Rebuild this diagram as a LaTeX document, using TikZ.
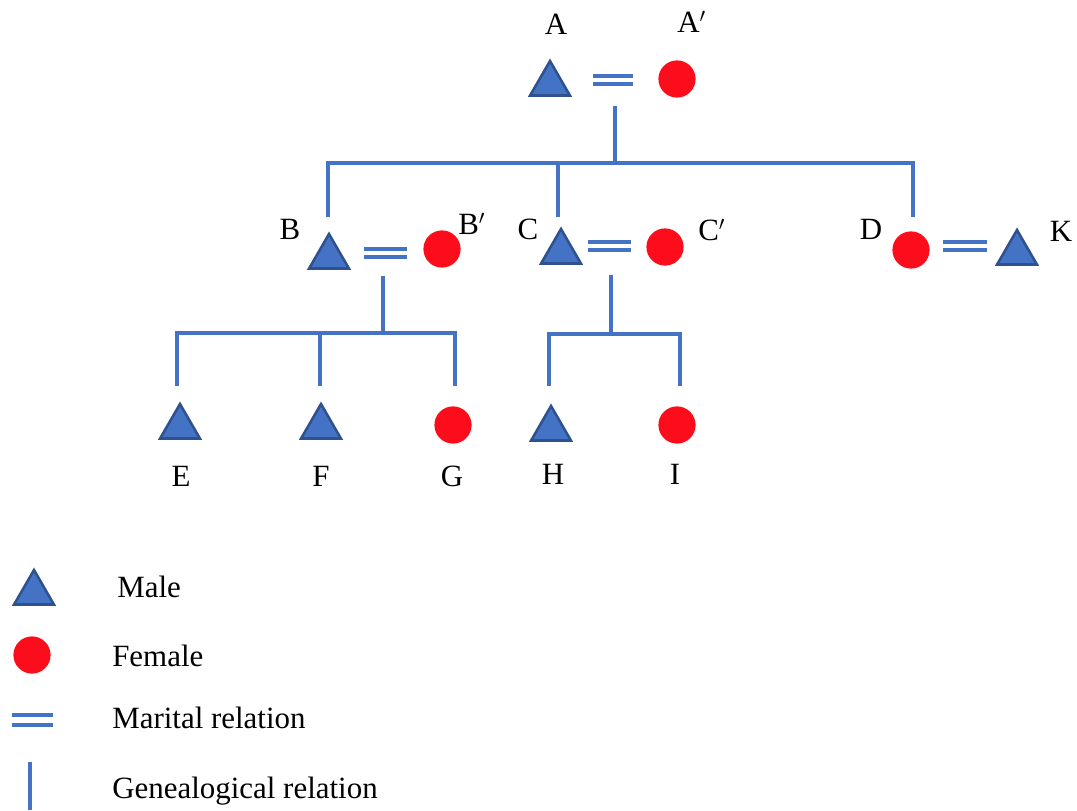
\documentclass[tikz,border=0pt]{standalone}
\usepackage{fontspec}
\setmainfont{Liberation Serif}
\usetikzlibrary{shapes.geometric}

\definecolor{maleblue}{RGB}{68,114,196}
\definecolor{maleedge}{RGB}{47,82,143}
\definecolor{femred}{RGB}{253,13,27}

\tikzset{
  male/.style={regular polygon, regular polygon sides=3, draw=maleedge, fill=maleblue,
    line width=1.8pt, minimum size=1.15cm, inner sep=0pt, outer sep=0pt},
  female/.style={circle, fill=femred, minimum size=0.93cm, inner sep=0pt},
  marital/.style={draw=maleblue, line width=2.5pt, double=white, double distance=3.2pt},
  genea/.style={draw=maleblue, line width=2.2pt},
  lbl/.style={font=\fontsize{22}{26}\selectfont, inner sep=0pt},
}

\begin{document}
\begin{tikzpicture}[x=0.025cm, y=0.025cm]
  \useasboundingbox (0,0) rectangle (1077,810);

  % persons
  \node [male] (A) at (550,726) {};
  \node [female] (A2) at (677,731) {};
  \node [male] (B) at (329,553) {};
  \node [female] (B2) at (442,561) {};
  \node [male] (C) at (561,558) {};
  \node [female] (C2) at (665,563) {};
  \node [female] (D) at (911,560) {};
  \node [male] (K) at (1017,557) {};
  \node [male] (E) at (180,383) {};
  \node [male] (F) at (321,383) {};
  \node [female] (G) at (453,385) {};
  \node [male] (H) at (551,381) {};
  \node [female] (I) at (677,385) {};

  % names
  \node [lbl, anchor=base] (lA) at (556,775) {A};
  \node [lbl, anchor=base west] (lA2) at (677,777) {A$'$};
  \node [lbl, anchor=base] (lB) at (290,570) {B};
  \node [lbl, anchor=base west] (lB2) at (458,575) {B$'$};
  \node [lbl, anchor=base] (lC) at (528,570) {C};
  \node [lbl, anchor=base west] (lC2) at (698,569) {C$'$};
  \node [lbl, anchor=base] (lD) at (871,570) {D};
  \node [lbl, anchor=base] (lK) at (1061,568) {K};
  \node [lbl, anchor=base] (lE) at (181,323) {E};
  \node [lbl, anchor=base] (lF) at (321,323) {F};
  \node [lbl, anchor=base] (lG) at (452,323) {G};
  \node [lbl, anchor=base] (lH) at (553,325) {H};
  \node [lbl, anchor=base] (lI) at (675,325) {I};

  % marital marks
  \foreach \m/\xa/\xb/\y in {mA/593/633/730, mB/364/407/557, mC/588/631/564, mD/943/987/564} {
    \coordinate (\m1) at (\xa,\y);
    \coordinate (\m2) at (\xb,\y);
    \draw [marital] (\m1) -- (\m2);
  }

  % genealogical lines
  \coordinate (fA) at (615,704);
  \coordinate (jA) at (615,647);
  \coordinate (dB) at (328,593);
  \coordinate (dC) at (558,593);
  \coordinate (dD) at (913,593);
  \draw [genea] (fA) -- (jA);
  \draw [genea] (dB) |- (jA) -| (dD);
  \draw [genea] (dC) -- (dC |- jA);

  \coordinate (fB) at (383,534);
  \coordinate (jB) at (383,477);
  \coordinate (dE) at (177,424);
  \coordinate (dF) at (320,424);
  \coordinate (dG) at (455,424);
  \draw [genea] (fB) -- (jB);
  \draw [genea] (dE) |- (jB) -| (dG);
  \draw [genea] (dF) -- (dF |- jB);

  \coordinate (fC) at (611,535);
  \coordinate (jC) at (611,476);
  \coordinate (dH) at (549,424);
  \coordinate (dI) at (680,424);
  \draw [genea] (fC) -- (jC);
  \draw [genea] (dH) |- (jC) -| (dI);

  % legend
  \node [male] (kM) at (34,217) {};
  \node [female] (kF) at (32,155) {};
  \coordinate (kW1) at (12,90);
  \coordinate (kW2) at (53,90);
  \draw [marital, double distance=4.8pt] (kW1) -- (kW2);
  \coordinate (kG1) at (30,48);
  \coordinate (kG2) at (30,0);
  \draw [genea] (kG1) -- (kG2);
  \node [lbl, anchor=base west] (tM) at (117,213) {Male};
  \node [lbl, anchor=base west] (tF) at (112,144) {Female};
  \node [lbl, anchor=base west] (tW) at (112,82) {Marital relation};
  \node [lbl, anchor=base west] (tG) at (112,12) {Genealogical relation};
\end{tikzpicture}
\end{document}
